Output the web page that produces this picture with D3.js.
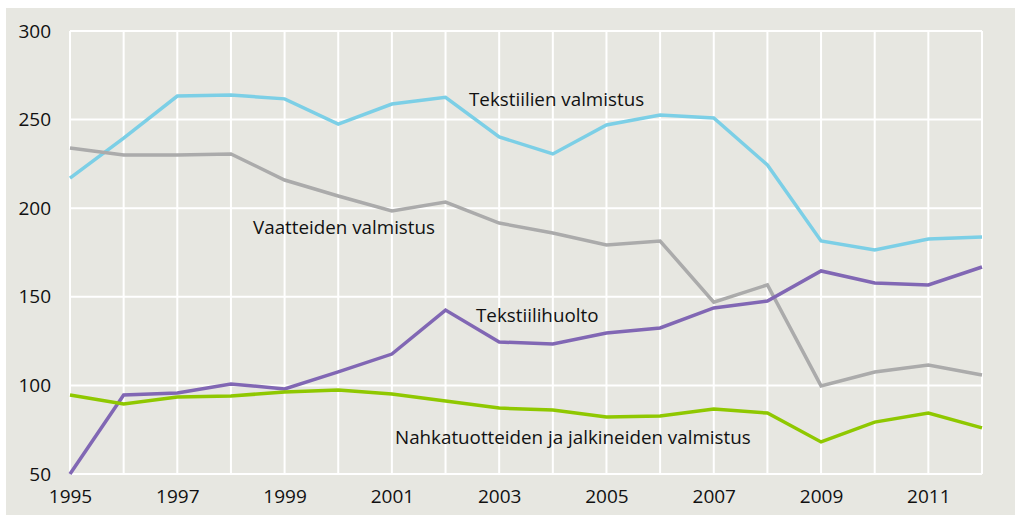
<!DOCTYPE html>
<html><head><meta charset="utf-8">
<script src="https://cdn.jsdelivr.net/npm/d3@7"></script>
<style>body{margin:0;background:#fff}svg{display:block}text{font-family:"Open Sans",sans-serif;fill:#111}</style>
</head><body>
<svg id="c" width="1015" height="515"></svg>
<script>
const years = [1995,1996,1997,1998,1999,2000,2001,2002,2003,2004,2005,2006,2007,2008,2009,2010,2011,2012];
const tekstiilienValmistus = [217,239.6,263.3,263.9,261.7,247.5,258.8,262.6,240.2,230.6,247,252.6,250.9,224.4,181.5,176.4,182.6,183.7];
const vaatteidenValmistus = [234,230,230,230.6,215.9,206.9,198.4,203.5,191.6,186,179.2,181.5,147,156.7,99.7,107.6,111.5,105.9];
const tekstiilihuolto = [50,94.6,95.7,100.8,98,107.6,117.7,142.5,124.5,123.4,129.6,132.4,143.7,147.6,164.6,157.8,156.7,166.8];
const nahkatuotteet = [94.6,89.5,93.5,94,96.3,97.4,95.1,91.2,87.2,86.1,82.2,82.7,86.7,84.4,68.1,79.3,84.4,76];
const yTicks = [50,100,150,200,250,300];
const xTickLabels = [1995,1997,1999,2001,2003,2005,2007,2009,2011];
const seriesNames = ["Tekstiilien valmistus","Vaatteiden valmistus","Tekstiilihuolto","Nahkatuotteiden ja jalkineiden valmistus"];
const colors = ["#7ccfe6","#ababab","#8167b4","#8fc800"];

const svg = d3.select("#c");
svg.append("rect").attr("x",6).attr("y",8).attr("width",1009).attr("height",507).attr("fill","#e7e7e1");

const x = d3.scaleLinear().domain([1995,2012]).range([70,982]);
const y = d3.scaleLinear().domain([50,300]).range([474,31]);

const g = svg.append("g");
g.selectAll("line.v").data(years).join("line")
  .attr("x1",d=>x(d)).attr("x2",d=>x(d)).attr("y1",y(300)).attr("y2",y(50))
  .attr("stroke","#fff").attr("stroke-width",2);
g.selectAll("line.h").data(yTicks).join("line")
  .attr("x1",x(1995)).attr("x2",x(2012)).attr("y1",d=>y(d)).attr("y2",d=>y(d))
  .attr("stroke","#fff").attr("stroke-width",2);

const yAxis = d3.axisLeft(y).tickValues(yTicks).tickSize(0).tickPadding(0);
svg.append("g").attr("transform","translate(51,0)").call(yAxis)
  .call(s=>s.select(".domain").remove())
  .selectAll("text").attr("font-size",19).attr("font-family","Open Sans, sans-serif").attr("fill","#111");
const xAxis = d3.axisBottom(x).tickValues(xTickLabels).tickFormat(d3.format("d")).tickSize(0).tickPadding(0);
svg.append("g").attr("transform","translate(0,489)").call(xAxis)
  .call(s=>s.select(".domain").remove())
  .selectAll("text").attr("font-size",19).attr("font-family","Open Sans, sans-serif").attr("fill","#111");

const data = [tekstiilienValmistus,vaatteidenValmistus,tekstiilihuolto,nahkatuotteet];
const line = d3.line().x((d,i)=>x(years[i])).y(d=>y(d));
data.forEach((s,i)=>{
  svg.append("path").datum(s).attr("d",line).attr("fill","none")
    .attr("stroke",colors[i]).attr("stroke-width",3.5).attr("stroke-linejoin","miter");
});

const labels = [
  {t:seriesNames[0], x:469, y:106},
  {t:seriesNames[1], x:253, y:234},
  {t:seriesNames[2], x:476, y:322},
  {t:seriesNames[3], x:395, y:444}
];
svg.selectAll("text.lab").data(labels).join("text").attr("class","lab")
  .attr("x",d=>d.x).attr("y",d=>d.y).attr("font-size",18.8).text(d=>d.t);
</script>
</body></html>
